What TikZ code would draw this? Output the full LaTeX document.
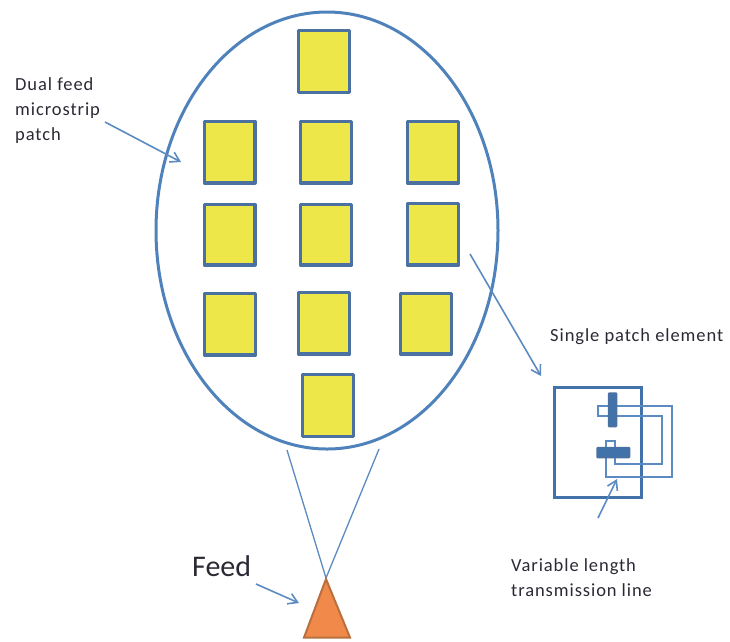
\documentclass[tikz,border=0pt]{standalone}
\usepackage{fontspec}
\setmainfont{Carlito}
\newfontfamily\spaced[LetterSpace=5]{Carlito}
\usetikzlibrary{arrows.meta}
\definecolor{bl}{HTML}{5B8BC0}
\definecolor{dk}{HTML}{4F82BA}
\definecolor{pf}{HTML}{EDE74A}
\definecolor{ps}{HTML}{4A71A0}
\definecolor{es}{HTML}{4272AA}
\definecolor{ofill}{HTML}{F0894A}
\definecolor{ostr}{HTML}{B8703F}
\definecolor{tx}{HTML}{2A2A35}
\tikzset{x=1pt,y=-1pt,
 patchbox/.style={draw=ps,line width=3.2pt,fill=pf,line join=round},
 thinline/.style={draw=bl,line width=1.3pt},
 arr/.style={draw=bl,line width=1.6pt,-{Straight Barb[length=9pt,width=11pt,line width=1.6pt]}},
 lbl/.style={anchor=west,align=left,inner sep=0pt,font=\spaced\fontsize{18.5}{25}\selectfont,text=tx}}
\newcommand{\putpatch}[5]{\path[patchbox] (#2,#3) rectangle (#4,#5) node[pos=.5,inner sep=0pt] (#1) {};}
\begin{document}
\begin{tikzpicture}
\useasboundingbox (0,0) rectangle (730,641);
\coordinate (feedtip) at (326,578);
\coordinate (ll) at (287,450);
\coordinate (lr) at (379,449);
\draw[thinline] (ll) -- (feedtip) -- (lr);
\draw[dk,line width=3pt] (327,230.5) ellipse [x radius=171,y radius=218.5];
\putpatch{p1}{298.5}{30.5}{349.5}{92.5}
\putpatch{p2}{204.5}{121.5}{255}{183}
\putpatch{p3}{300.5}{121.5}{351.5}{183}
\putpatch{p4}{407.5}{121.5}{458.5}{183}
\putpatch{p5}{204.5}{204.5}{255}{265}
\putpatch{p6}{300.5}{204.5}{351.5}{265}
\putpatch{p7}{407.5}{203.5}{458.5}{265}
\putpatch{p8}{204.5}{293.5}{255.5}{355}
\putpatch{p9}{298.5}{292.5}{349.5}{354}
\putpatch{p10}{400.5}{293.5}{451.5}{354}
\putpatch{p11}{302.5}{374.5}{353.5}{436.5}
\path[fill=ofill,draw=ostr,line width=2pt,line join=miter] (326,579) -- (350,637.5) -- (304,637.5) -- cycle;
\node[anchor=west,inner sep=0pt,font=\fontsize{30}{32}\selectfont,text=tx] (feed) at (192,566) {Feed};
\coordinate (fa) at (256,584); \coordinate (fb) at (299,603);
\draw[arr] (fa) -- (fb);
\node[lbl] (dual) at (15,111) {Dual feed\\microstrip\\patch};
\coordinate (da) at (105,122); \coordinate (db) at (181,162);
\draw[arr] (da) -- (db);
\node[lbl] (single) at (550,337) {Single patch element};
\node[lbl] (var) at (511,577.5) {Variable length\\transmission line};
\draw[es,line width=3pt] (554.5,387) rectangle (641,497);
\draw[thinline] (598,406) -- (672,406) -- (672,477) -- (606,477) -- (606,441) -- (615,441) -- (615,464) -- (662,464) -- (662,416) -- (598,416) -- cycle;
\path[draw=ps,fill=es,line width=1.5pt,rounded corners=.8pt] (608.5,393) rectangle (616.5,426.5);
\path[draw=ps,fill=es,line width=1.5pt,rounded corners=.8pt] (597,447.5) rectangle (629.5,457.5);
\coordinate (aa) at (470,254); \coordinate (ab) at (541,376);
\draw[arr] (aa) -- (ab);
\coordinate (va) at (598,518); \coordinate (vb) at (617,479);
\draw[arr] (va) -- (vb);
\end{tikzpicture}
\end{document}
